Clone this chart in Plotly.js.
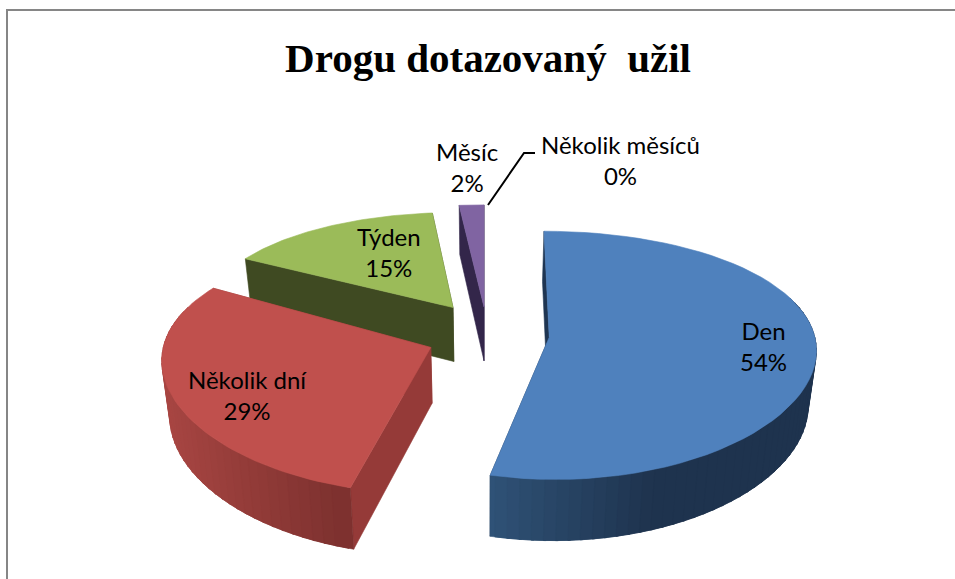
<!DOCTYPE html>
<html><head><meta charset="utf-8">
<script src="https://cdn.plot.ly/plotly-3.0.1.min.js"></script>
<style>html,body{margin:0;padding:0;background:#fff}#c{width:955px;height:579px}</style></head>
<body><div id="c"></div>
<script>
const categories = ["Den","Několik dní","Týden","Měsíc","Několik měsíců"];
const values = [53.6,29.4,15.4,1.6,0];
const topColors = ["#4f81bd","#c0504d","#9bbb59","#8064a2","#4bacc6"];
const faceColors = ["#1f3552","#953a38","#3f4a22","#33264a","#215968"];
const arcLeft = ["#305378","#a94643","#4f5e2b","#3d2e58","#2a6f82"];
const arcRight = ["#1e334e","#7b302e","#3f4a22","#33264a","#215968"];
const labelX = [763,247,389,467,620];
const labelY = [346,395,252,167,160];
const title = "Drogu dotazovaný \u00a0užil";

// view geometry
const cx=484, cy=331, rx=274, ry=124, px=0.09, py=0.15, hgt=55, bottomScale=0.975;
const pullX=[0.237,-0.192,-0.115,0,0], pullZ=[-0.05,-0.13,0.195,0.2,0], radius=[0.965,0.965,0.92,1,1], turn=[0,2,0,0,0];
const drawOrder=[4,3,2,1,0];

function project(X,Z,low){
  const wx=1+px*Z, wy=1+py*Z;
  let x=rx*X/wx, y=-ry*Z/wy;
  if(low){ x*=bottomScale; y+=hgt/(1+0.1*Z); }
  return [cx+x, cy+y];
}
function pt(i,deg,r,low){
  const a=deg*Math.PI/180;
  return project(pullX[i]+r*radius[i]*Math.sin(a), pullZ[i]+r*radius[i]*Math.cos(a), low);
}
function poly(pts,color){
  const p=pts.concat([pts[0]]);
  return {type:'scatter',mode:'lines',x:p.map(q=>q[0]),y:p.map(q=>q[1]),fill:'toself',fillcolor:color,
          line:{color:color,width:0.6},hoverinfo:'skip',showlegend:false};
}
function mix(c1,c2,t){
  const h=(c,k)=>parseInt(c.substr(1+2*k,2),16);
  return 'rgb('+[0,1,2].map(k=>Math.round(h(c1,k)+(h(c2,k)-h(c1,k))*t)).join(',')+')';
}
const total=values.reduce((a,b)=>a+b,0);
const starts=[]; let acc=0;
values.forEach(v=>{starts.push(acc); acc+=v*360/total;});
const traces=[];
drawOrder.forEach(i=>{
  if(values[i]<=0) return;
  const a0=starts[i]+turn[i], a1=starts[i]+values[i]*360/total+turn[i];
  traces.push(poly([pt(i,a1,0,false),pt(i,a1,1,false),pt(i,a1,1,true),pt(i,a1,0,true)],faceColors[i]));
  traces.push(poly([pt(i,a0,0,false),pt(i,a0,1,false),pt(i,a0,1,true),pt(i,a0,0,true)],faceColors[i]));
  // outer wall, shaded piece by piece; each piece overlaps the next so no seam shows
  const n=Math.max(2,Math.ceil((a1-a0)/2.5));
  for(let k=n-1;k>=0;k--){
    const b0=a0+(a1-a0)*k/n, b1=a0+(a1-a0)*(k+1)/n;
    const m=(b0+b1)/2;
    if(Math.cos(m*Math.PI/180)>0.3) continue;
    const xs=pt(i,m,1,false)[0];
    const t=Math.min(1,Math.max(0,(xs-(i===0?491:160))/(i===0?170:195)));
    const lo=Math.max(a0,b0-(a1-a0)/n*0.6), hi=Math.min(a1,b1+(a1-a0)/n*0.6);
    traces.push(poly([pt(i,lo,1,false),pt(i,(lo+hi)/2,1,false),pt(i,hi,1,false),pt(i,hi,1,true),pt(i,(lo+hi)/2,1,true),pt(i,lo,1,true)],mix(arcLeft[i],arcRight[i],t)));
  }
  const top=[pt(i,a0,0,false)];
  for(let k=0;k<=60;k++) top.push(pt(i,a0+(a1-a0)*k/60,1,false));
  traces.push(poly(top,topColors[i]));
});
const annotations=categories.map((c,i)=>({
  xref:'x',yref:'y',x:labelX[i],y:labelY[i],xanchor:'center',yanchor:'middle',showarrow:false,
  align:'center',text:c+'<br>'+Math.round(values[i])+'%',font:{family:'Lato, sans-serif',size:24,color:'#000'}
}));
const layout={
  width:955,height:579,margin:{l:0,r:0,t:0,b:0},paper_bgcolor:'#fff',plot_bgcolor:'#fff',showlegend:false,
  hovermode:false,
  title:{text:title,x:0.511,xanchor:'center',y:0.9,yanchor:'middle',font:{family:'Liberation Serif, serif',size:41,color:'#000',weight:700}},
  xaxis:{range:[0,955],visible:false,fixedrange:true},
  yaxis:{range:[579,0],visible:false,fixedrange:true},
  annotations:annotations,
  shapes:[
    {type:'line',xref:'paper',yref:'paper',x0:7/955,x1:7/955,y0:0,y1:1-10/579,line:{color:'#868686',width:2}},
    {type:'line',xref:'paper',yref:'paper',x0:6/955,x1:1,y0:1-10/579,y1:1-10/579,line:{color:'#868686',width:2}},
    {type:'path',xref:'x',yref:'y',path:'M488,205 L524,153 L535,153',line:{color:'#000',width:2}}
  ]
};
Plotly.newPlot('c',traces,layout,{displayModeBar:false,staticPlot:true});
</script></body></html>
